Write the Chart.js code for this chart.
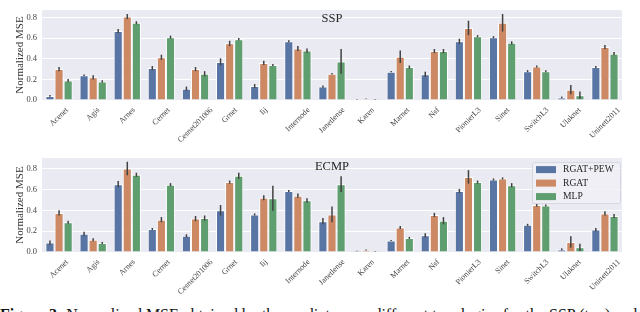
<!DOCTYPE html>
<html>
<head>
<meta charset="utf-8">
<script src="https://cdn.jsdelivr.net/npm/chart.js@4.4.0/dist/chart.umd.min.js"></script>
<style>
    body { margin: 0; background: #fff; width: 640px; height: 312px; overflow: hidden; position: relative; }
    canvas { position: absolute; left: 0; }
    #sspChart { top: 0; }
    #ecmpChart { top: 148px; }
    #caption {
        position: absolute; left: 0; top: 307px;
        font-family: "Liberation Serif", serif; font-size: 16px; line-height: 16px;
        white-space: nowrap; color: #111;
    }
</style>
</head>
<body>
<canvas id="sspChart" width="640" height="148"></canvas>
<canvas id="ecmpChart" width="640" height="148"></canvas>
<div id="caption"><b>Figure 3:</b> Normalized MSE obtained by the predictors on different topologies for the SSP (top) and</div>
<script>
// Topologies (x axis)
var topologies = ["Acenet", "Agis", "Arnes", "Cernet", "Cesnet201006", "Grnet", "Iij", "Internode",
    "Janetlense", "Karen", "Marnet", "Nsf", "PionierL3", "Sinet", "SwitchL3", "Ulaknet", "Uninett2011"];
var seriesNames = ["RGAT+PEW", "RGAT", "MLP"];
var seriesColors = ["#5975A4", "#CC8963", "#5F9E6E"];
var yTickValues = [0, 0.2, 0.4, 0.6, 0.8];
var yTickLabels = ["0.0", "0.2", "0.4", "0.6", "0.8"];

// SSP (top) - mean and half error bar
var sspPew = [0.04, 0.24, 0.67, 0.31, 0.11, 0.37, 0.135, 0.57, 0.13, 0.005, 0.275, 0.25, 0.57, 0.61, 0.28, 0.025, 0.32];
var sspRgat = [0.30, 0.22, 0.81, 0.415, 0.30, 0.55, 0.36, 0.50, 0.255, 0.012, 0.42, 0.475, 0.70, 0.75, 0.325, 0.10, 0.515];
var sspMlp = [0.19, 0.18, 0.75, 0.61, 0.255, 0.59, 0.34, 0.48, 0.375, 0.002, 0.32, 0.475, 0.62, 0.555, 0.28, 0.047, 0.45];
var sspPewErr = [0.008, 0.008, 0.02, 0.02, 0.02, 0.035, 0.02, 0.01, 0.01, 0.003, 0.006, 0.025, 0.025, 0.01, 0.01, 0.008, 0.01];
var sspRgatErr = [0.02, 0.02, 0.025, 0.025, 0.02, 0.025, 0.02, 0.025, 0.007, 0.003, 0.06, 0.02, 0.07, 0.085, 0.01, 0.045, 0.02];
var sspMlpErr = [0.015, 0.012, 0.015, 0.015, 0.025, 0.012, 0.01, 0.02, 0.12, 0.002, 0.015, 0.02, 0.01, 0.015, 0.01, 0.035, 0.015];

// ECMP (bottom)
var ecmpPew = [0.09, 0.175, 0.65, 0.22, 0.155, 0.40, 0.36, 0.585, 0.295, 0.01, 0.11, 0.16, 0.585, 0.695, 0.26, 0.025, 0.215];
var ecmpRgat = [0.375, 0.117, 0.80, 0.31, 0.32, 0.67, 0.52, 0.54, 0.36, 0.02, 0.235, 0.355, 0.72, 0.705, 0.45, 0.095, 0.37];
var ecmpMlp = [0.285, 0.087, 0.74, 0.645, 0.325, 0.73, 0.515, 0.495, 0.65, 0.002, 0.135, 0.30, 0.67, 0.64, 0.445, 0.045, 0.345];
var ecmpPewErr = [0.02, 0.02, 0.03, 0.01, 0.015, 0.05, 0.01, 0.01, 0.03, 0.003, 0.005, 0.02, 0.02, 0.01, 0.01, 0.01, 0.015];
var ecmpRgatErr = [0.025, 0.015, 0.065, 0.025, 0.025, 0.015, 0.025, 0.02, 0.075, 0.005, 0.015, 0.02, 0.065, 0.01, 0.015, 0.055, 0.02];
var ecmpMlpErr = [0.015, 0.01, 0.02, 0.015, 0.025, 0.03, 0.12, 0.02, 0.075, 0.002, 0.01, 0.035, 0.015, 0.02, 0.01, 0.035, 0.02];

var serif = "'Liberation Serif', 'DejaVu Serif', serif";

// Grey panel behind the plot (seaborn darkgrid look)
var panelPlugin = {
    id: "panel",
    beforeDraw: function (chart) {
        var a = chart.chartArea, ctx = chart.ctx;
        ctx.save();
        ctx.fillStyle = "#EAEAF2";
        ctx.fillRect(a.left, a.top, a.right - a.left, a.bottom - a.top + 1);
        ctx.restore();
    }
};

// Error bars, placed through the chart's own scales
var errorBarPlugin = {
    id: "errorBars",
    afterDatasetsDraw: function (chart) {
        var ctx = chart.ctx, y = chart.scales.y;
        ctx.save();
        ctx.strokeStyle = "#424242";
        ctx.lineWidth = 1.5;
        chart.data.datasets.forEach(function (ds, i) {
            var meta = chart.getDatasetMeta(i);
            meta.data.forEach(function (bar, j) {
                var v = ds.data[j], e = ds.errors[j];
                ctx.beginPath();
                ctx.moveTo(bar.x, y.getPixelForValue(v - e));
                ctx.lineTo(bar.x, y.getPixelForValue(v + e));
                ctx.stroke();
            });
        });
        ctx.restore();
    }
};

// Rotated, centred x labels (matplotlib rotation=45, ha=center)
var xLabelPlugin = {
    id: "xLabels",
    afterDraw: function (chart) {
        var ctx = chart.ctx, x = chart.scales.x, a = chart.chartArea;
        ctx.save();
        ctx.font = "8px " + serif;
        ctx.fillStyle = "#444";
        ctx.textAlign = "center";
        ctx.textBaseline = "middle";
        chart.data.labels.forEach(function (label, i) {
            var w = ctx.measureText(label).width;
            var half = (w + 8) * 0.7071 / 2;
            ctx.save();
            ctx.translate(x.getPixelForTick(i), a.bottom + 6 + half);
            ctx.rotate(-Math.PI / 4);
            ctx.fillText(label, 0, 0);
            ctx.restore();
        });
        ctx.restore();
    }
};

// Panel title drawn inside the plot area
var panelTitlePlugin = {
    id: "panelTitle",
    afterDraw: function (chart, args, opts) {
        var ctx = chart.ctx, a = chart.chartArea;
        ctx.save();
        ctx.font = "12.5px " + serif;
        ctx.fillStyle = "#262626";
        ctx.textAlign = "center";
        ctx.textBaseline = "top";
        ctx.fillText(opts.text, (a.left + a.right) / 2, a.top + 2);
        ctx.restore();
    }
};

// Legend box in the upper right of the bottom panel
var innerLegendPlugin = {
    id: "innerLegend",
    afterDraw: function (chart, args, opts) {
        if (!opts.show) return;
        var ctx = chart.ctx, a = chart.chartArea;
        var w = 88, h = 41;
        var left = a.right - 2 - w, top = a.top + 4;
        ctx.save();
        ctx.fillStyle = "rgba(240,240,246,0.85)";
        ctx.strokeStyle = "#d6d6de";
        ctx.lineWidth = 1;
        ctx.beginPath();
        ctx.roundRect(left + 0.5, top + 0.5, w, h, 2);
        ctx.fill();
        ctx.stroke();
        ctx.font = "9.6px " + serif;
        ctx.textBaseline = "middle";
        chart.data.datasets.forEach(function (ds, i) {
            var cy = top + 7 + i * 13.5;
            ctx.fillStyle = ds.backgroundColor;
            ctx.fillRect(left + 4, cy - 3, 20, 7);
            ctx.fillStyle = "#262626";
            ctx.fillText(ds.label, left + 31, cy + 0.5);
        });
        ctx.restore();
    }
};

function makeDatasets(values, errors) {
    return values.map(function (vals, i) {
        return {
            label: seriesNames[i],
            data: vals,
            errors: errors[i],
            backgroundColor: seriesColors[i],
            borderColor: "#ffffff",
            borderWidth: 1,
            categoryPercentage: 0.8,
            barPercentage: 1.0
        };
    });
}

function makeChart(canvasId, title, values, errors, yMax, padTop, xHeight, showLegend) {
    var ctx = document.getElementById(canvasId).getContext("2d");
    return new Chart(ctx, {
        type: "bar",
        data: { labels: topologies, datasets: makeDatasets(values, errors) },
        options: {
            responsive: false,
            animation: false,
            devicePixelRatio: 1,
            layout: { padding: { top: padTop, right: 18, left: 0, bottom: 0 } },
            plugins: {
                legend: { display: false },
                tooltip: { enabled: false },
                panelTitle: { text: title },
                innerLegend: { show: showLegend }
            },
            scales: {
                x: {
                    grid: { display: false },
                    border: { display: false },
                    ticks: { display: false },
                    afterFit: function (scale) { scale.height = xHeight; }
                },
                y: {
                    min: 0,
                    max: yMax,
                    afterBuildTicks: function (scale) {
                        scale.ticks = yTickValues.map(function (v) { return { value: v }; });
                    },
                    afterFit: function (scale) { scale.width = 42; },
                    grid: { color: "#ffffff", lineWidth: 1, drawTicks: false },
                    border: { display: false },
                    ticks: {
                        padding: 5,
                        color: "#444",
                        font: { family: serif, size: 8.5 },
                        callback: function (v, i) { return yTickLabels[i]; }
                    },
                    title: {
                        display: true,
                        text: "Normalized MSE",
                        color: "#333",
                        font: { family: serif, size: 11 },
                        padding: { top: 14, bottom: 0 }
                    }
                }
            }
        },
        plugins: [panelPlugin, errorBarPlugin, xLabelPlugin, panelTitlePlugin, innerLegendPlugin]
    });
}

makeChart("sspChart", "SSP",
    [sspPew, sspRgat, sspMlp], [sspPewErr, sspRgatErr, sspMlpErr],
    0.873, 1, 48, false);
makeChart("ecmpChart", "ECMP",
    [ecmpPew, ecmpRgat, ecmpMlp], [ecmpPewErr, ecmpRgatErr, ecmpMlpErr],
    0.90, 4, 44, true);
</script>
</body>
</html>
